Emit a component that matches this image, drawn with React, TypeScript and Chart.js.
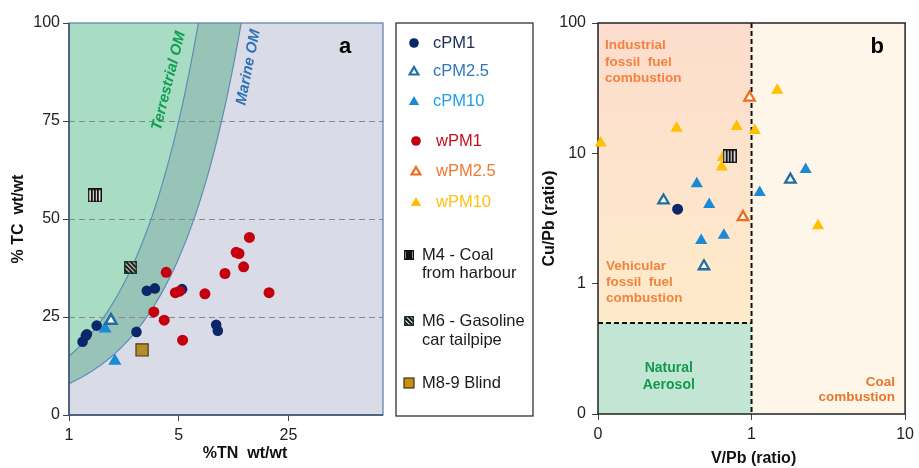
import React, { useEffect, useRef } from 'react';
import { Chart, registerables } from 'chart.js';

Chart.register(...registerables);

const FONT = '"Liberation Sans", Arial, Helvetica, sans-serif';

// ---------- Panel a : %TC vs %TN ----------
const A_X_TICKS = [1, 5, 25];
const A_Y_TICKS = [0, 25, 50, 75, 100];
const TERR_RATIO = 15; // C/N terrestrial boundary
const MAR_RATIO = 8; // C/N marine boundary

const cPM1_TN = [1.22, 1.28, 1.3, 1.5, 2.69, 3.13, 3.52, 5.25, 8.66, 8.87];
const cPM1_TC = [18.7, 20.2, 20.6, 22.8, 21.2, 31.7, 32.3, 32.1, 23.0, 21.5];
const cPM25_TN = [1.85];
const cPM25_TC = [24.1];
const cPM10_TN = [1.7, 1.96];
const cPM10_TC = [22.0, 13.8];
const wPM1_TN = [14.1, 11.6, 12.1, 12.95, 9.85, 4.16, 4.76, 5.07, 7.34, 18.8, 3.47, 4.04, 5.29];
const wPM1_TC = [45.3, 41.5, 41.2, 37.8, 36.1, 36.4, 31.2, 31.6, 30.9, 31.2, 26.3, 24.2, 19.1];
const M4_TN = [1.46];
const M4_TC = [56.0];
const M6_TN = [2.47];
const M6_TC = [37.7];
const M89_TN = [2.92];
const M89_TC = [16.6];

// ---------- Panel b : Cu/Pb vs V/Pb ----------
const B_X_TICKS = [0.1, 1, 10];
const B_X_LABELS = ['0', '1', '10'];
const B_Y_TICKS = [0.1, 1, 10, 100];
const B_Y_LABELS = ['0', '1', '10', '100'];
const V_SPLIT = 1;
const CU_SPLIT = 0.5;

const wPM10_V = [0.104, 0.325, 0.8, 1.05, 1.47, 0.65, 0.64, 2.71];
const wPM10_Cu = [12.0, 15.6, 16.1, 15.0, 30.5, 9.3, 7.85, 2.78];
const wPM25_V = [0.97, 0.88];
const wPM25_Cu = [26.8, 3.24];
const cPM10_V = [0.44, 0.53, 1.13, 2.25, 0.47, 0.66];
const cPM10_Cu = [5.85, 4.05, 5.0, 7.5, 2.14, 2.35];
const cPM25_V = [0.267, 1.79, 0.49];
const cPM25_Cu = [4.35, 6.28, 1.36];
const cPM1_V = [0.33];
const cPM1_Cu = [3.73];
const M4_V = [0.72];
const M4_Cu = [9.5];

// ---------- colours ----------
const C_NAVY = '#0c2769';
const C_CPM25 = '#1f6fa6';
const C_CPM10 = '#1b8ad6';
const C_RED = '#c40010';
const C_ORANGE = '#f06a1c';
const C_YELLOW = '#ffc000';

function pts(xs: number[], ys: number[]) {
  return xs.map((x, i) => ({ x, y: ys[i] }));
}

function makePattern(kind: 'v' | 'd', size: number): HTMLCanvasElement {
  const c = document.createElement('canvas');
  c.width = size;
  c.height = size;
  const g = c.getContext('2d')!;
  g.fillStyle = '#fff';
  g.fillRect(0, 0, size, size);
  g.save();
  g.beginPath();
  g.rect(1, 1, size - 2, size - 2);
  g.clip();
  g.strokeStyle = '#111';
  if (kind === 'v') {
    g.lineWidth = 2;
    const step = (size - 2) / 4;
    for (let k = 1; k <= 3; k++) {
      const x = 1 + step * k;
      g.beginPath();
      g.moveTo(x, 0);
      g.lineTo(x, size);
      g.stroke();
    }
  } else {
    g.lineWidth = 2.2;
    for (let k = -size; k < 2 * size; k += 4.6) {
      g.beginPath();
      g.moveTo(k, 0);
      g.lineTo(k + size, size);
      g.stroke();
    }
  }
  g.restore();
  g.lineWidth = 1.5;
  g.strokeStyle = kind === 'v' ? '#111' : '#173a28';
  g.strokeRect(0.75, 0.75, size - 1.5, size - 1.5);
  return c;
}

function drawTri(ctx: CanvasRenderingContext2D, x: number, y: number, r: number, fill: string, stroke: string, lw: number) {
  ctx.beginPath();
  for (let i = 0; i < 3; i++) {
    const a = (i * 2 * Math.PI) / 3;
    const px = x + Math.sin(a) * r;
    const py = y - Math.cos(a) * r;
    if (i === 0) ctx.moveTo(px, py);
    else ctx.lineTo(px, py);
  }
  ctx.closePath();
  ctx.fillStyle = fill;
  ctx.fill();
  if (lw > 0) {
    ctx.lineWidth = lw;
    ctx.strokeStyle = stroke;
    ctx.stroke();
  }
}

function drawCircle(ctx: CanvasRenderingContext2D, x: number, y: number, r: number, fill: string) {
  ctx.beginPath();
  ctx.arc(x, y, r, 0, Math.PI * 2);
  ctx.fillStyle = fill;
  ctx.fill();
}

function fixedTicks(values: number[]) {
  return (scale: any) => {
    scale.ticks = values.map((v) => ({ value: v }));
  };
}

export default function App() {
  const refA = useRef<HTMLCanvasElement>(null);
  const refB = useRef<HTMLCanvasElement>(null);

  useEffect(() => {
    const patV = makePattern('v', 14);
    const patD = makePattern('d', 13);
    const patVsmall = makePattern('v', 10);
    const patDsmall = makePattern('d', 10);

    // ---------------- Panel A ----------------
    const panelAPlugin = {
      id: 'panelA',
      beforeDraw(chart: any) {
        const { ctx, chartArea: ca, scales } = chart;
        const xs = scales.x;
        const ys = scales.y;
        ctx.save();
        ctx.beginPath();
        ctx.rect(ca.left, ca.top, ca.right - ca.left, ca.bottom - ca.top);
        ctx.clip();
        ctx.fillStyle = '#d9dbe7';
        ctx.fillRect(ca.left, ca.top, ca.right - ca.left, ca.bottom - ca.top);
        const curve = (ratio: number) => {
          const out: number[][] = [];
          const lo = Math.log(xs.min);
          const hi = Math.log(Math.min(xs.max, (ys.max / ratio) * 1.05));
          for (let i = 0; i <= 80; i++) {
            const tn = Math.exp(lo + ((hi - lo) * i) / 80);
            out.push([xs.getPixelForValue(tn), ys.getPixelForValue(ratio * tn)]);
          }
          return out;
        };
        const terr = curve(TERR_RATIO);
        const mar = curve(MAR_RATIO);
        const top = ca.top - 10;
        // terrestrial region
        ctx.beginPath();
        ctx.moveTo(ca.left, top);
        terr.forEach((p) => ctx.lineTo(p[0], p[1]));
        ctx.lineTo(terr[terr.length - 1][0], top);
        ctx.closePath();
        ctx.fillStyle = '#a8dcc3';
        ctx.fill();
        // band between
        ctx.beginPath();
        terr.forEach((p, i) => (i === 0 ? ctx.moveTo(p[0], p[1]) : ctx.lineTo(p[0], p[1])));
        ctx.lineTo(terr[terr.length - 1][0], top);
        ctx.lineTo(mar[mar.length - 1][0], top);
        for (let i = mar.length - 1; i >= 0; i--) ctx.lineTo(mar[i][0], mar[i][1]);
        ctx.closePath();
        ctx.fillStyle = '#98c4b7';
        ctx.fill();
        ctx.strokeStyle = '#5f8db8';
        ctx.lineWidth = 1.2;
        [terr, mar].forEach((c) => {
          ctx.beginPath();
          c.forEach((p, i) => (i === 0 ? ctx.moveTo(p[0], p[1]) : ctx.lineTo(p[0], p[1])));
          ctx.stroke();
        });
        ctx.restore();
      },
      beforeDatasetsDraw(chart: any) {
        const { ctx, chartArea: ca, scales } = chart;
        const xs = scales.x;
        const ys = scales.y;
        ctx.save();
        // border
        ctx.strokeStyle = '#6684ae';
        ctx.lineWidth = 1.3;
        ctx.strokeRect(ca.left, ca.top, ca.right - ca.left, ca.bottom - ca.top);
        ctx.strokeStyle = '#3a4c6c';
        ctx.lineWidth = 1.5;
        ctx.beginPath();
        ctx.moveTo(ca.left, ca.top);
        ctx.lineTo(ca.left, ca.bottom);
        ctx.lineTo(ca.right, ca.bottom);
        ctx.stroke();
        // curve labels
        const lab = (t: string, x: number, y: number, ang: number, col: string) => {
          ctx.save();
          ctx.translate(xs.getPixelForValue(x), ys.getPixelForValue(y));
          ctx.rotate((ang * Math.PI) / 180);
          ctx.font = `italic bold 15px ${FONT}`;
          ctx.fillStyle = col;
          ctx.textAlign = 'center';
          ctx.textBaseline = 'middle';
          ctx.fillText(t, 0, 0);
          ctx.restore();
        };
        lab('Terrestrial OM', 4.32, 85.2, -76, '#12a052');
        lab('Marine OM', 13.9, 88.7, -79, '#2e72b8');
        ctx.restore();
      },
      afterDraw(chart: any) {
        const { ctx, chartArea: ca } = chart;
        ctx.save();
        // panel letter
        ctx.font = `bold 22px ${FONT}`;
        ctx.fillStyle = '#000';
        ctx.textAlign = 'center';
        ctx.textBaseline = 'middle';
        ctx.fillText('a', ca.right - 38, ca.top + 24);
        // axis titles
        ctx.font = `bold 16px ${FONT}`;
        ctx.fillStyle = '#111';
        ctx.fillText('%TN  wt/wt', ca.left + 176, ca.bottom + 39);
        ctx.save();
        ctx.translate(19, (ca.top + ca.bottom) / 2);
        ctx.rotate(-Math.PI / 2);
        ctx.fillText('% TC  wt/wt', 0, 0);
        ctx.restore();

        // legend box
        const lx = ca.right + 13;
        const lw = 137;
        ctx.fillStyle = '#fff';
        ctx.fillRect(lx, ca.top, lw, ca.bottom - ca.top + 1);
        ctx.strokeStyle = '#333';
        ctx.lineWidth = 1.3;
        ctx.strokeRect(lx, ca.top, lw, ca.bottom - ca.top + 1);
        const mx = lx + 18;
        const tx = lx + 37;
        ctx.textAlign = 'left';
        ctx.textBaseline = 'middle';
        ctx.font = `16.5px ${FONT}`;
        const items: [string, string, (y: number) => void, number][] = [
          ['cPM1', '#1c2a55', (y) => drawCircle(ctx, mx, y, 4.8, C_NAVY), 43],
          ['cPM2.5', '#2e78bd', (y) => drawTri(ctx, mx, y + 1, 5, '#fff', C_CPM25, 2.2), 71],
          ['cPM10', '#1d9ee6', (y) => drawTri(ctx, mx, y + 1, 6, C_CPM10, C_CPM10, 0), 101],
          ['wPM1', '#c41020', (y) => drawCircle(ctx, mx + 2, y, 4.8, C_RED), 141],
          ['wPM2.5', '#f07830', (y) => drawTri(ctx, mx + 2, y + 1, 5, '#fff', C_ORANGE, 2.2), 171],
          ['wPM10', '#ffc010', (y) => drawTri(ctx, mx + 2, y + 1, 6, C_YELLOW, C_YELLOW, 0), 202],
        ];
        items.forEach(([t, col, mk, y]) => {
          mk(y);
          ctx.fillStyle = col;
          ctx.fillText(t, t.startsWith('w') ? tx + 3 : tx, y);
        });
        ctx.fillStyle = '#1a1a1a';
        const mx2 = lx + 13;
        const tx2 = lx + 26;
        ctx.drawImage(patVsmall, mx2 - 5, 255 - 5, 10, 10);
        ctx.fillText('M4 - Coal', tx2, 255);
        ctx.fillText('from harbour', tx2, 273);
        ctx.drawImage(patDsmall, mx2 - 5, 321 - 5, 10, 10);
        ctx.fillText('M6 - Gasoline', tx2, 321);
        ctx.fillText('car tailpipe', tx2, 340);
        ctx.fillStyle = '#c8900a';
        ctx.fillRect(mx2 - 5, 383 - 5, 10, 10);
        ctx.strokeStyle = '#3a3020';
        ctx.lineWidth = 1.2;
        ctx.strokeRect(mx2 - 5, 383 - 5, 10, 10);
        ctx.fillStyle = '#1a1a1a';
        ctx.fillText('M8-9 Blind', tx2, 383);
        ctx.restore();
      },
    };

    const common = { showLine: false, clip: false as any };

    const chartA = new Chart(refA.current!, {
      type: 'scatter',
      data: {
        datasets: [
          { ...common, label: 'M4 - Coal from harbour', data: pts(M4_TN, M4_TC), pointStyle: patV as any, pointRadius: 7 },
          { ...common, label: 'M6 - Gasoline car tailpipe', data: pts(M6_TN, M6_TC), pointStyle: patD as any, pointRadius: 7 },
          { ...common, label: 'M8-9 Blind', data: pts(M89_TN, M89_TC), pointStyle: 'rect', pointRadius: 8.6, backgroundColor: '#b48c28', borderColor: '#4a3c1a', borderWidth: 1.2 },
          { ...common, label: 'cPM2.5', data: pts(cPM25_TN, cPM25_TC), pointStyle: 'triangle', pointRadius: 6.5, backgroundColor: '#fff', borderColor: C_CPM25, borderWidth: 2.5 },
          { ...common, label: 'cPM10', data: pts(cPM10_TN, cPM10_TC), pointStyle: 'triangle', pointRadius: 7.5, backgroundColor: C_CPM10, borderWidth: 0 },
          { ...common, label: 'wPM1', data: pts(wPM1_TN, wPM1_TC), pointStyle: 'circle', pointRadius: 5.5, backgroundColor: C_RED, borderWidth: 0 },
          { ...common, label: 'cPM1', data: pts(cPM1_TN, cPM1_TC), pointStyle: 'circle', pointRadius: 5.3, backgroundColor: C_NAVY, borderWidth: 0 },
        ],
      },
      options: {
        animation: false,
        responsive: false,
        layout: { padding: { left: 0, top: 23, right: 157, bottom: 0 } },
        plugins: { legend: { display: false }, tooltip: { enabled: false } },
        scales: {
          x: {
            type: 'logarithmic',
            min: 1,
            max: 100,
            afterBuildTicks: fixedTicks(A_X_TICKS),
            afterFit: (s: any) => {
              s.height = 53;
            },
            ticks: {
              autoSkip: false,
              maxRotation: 0,
              padding: 5,
              color: '#222',
              font: { family: FONT, size: 16 },
              callback: (v: any) => String(v),
            },
            grid: { drawOnChartArea: false, drawTicks: true, tickLength: 6, tickColor: '#444', tickWidth: 1 },
            border: { display: false },
          },
          y: {
            type: 'linear',
            min: 0,
            max: 100,
            afterBuildTicks: fixedTicks(A_Y_TICKS),
            afterFit: (s: any) => {
              s.width = 69;
            },
            ticks: {
              padding: 3,
              color: '#222',
              font: { family: FONT, size: 16 },
              callback: (v: any) => String(v),
            },
            grid: {
              drawOnChartArea: true,
              color: (c: any) => (c.tick && (c.tick.value === 0 || c.tick.value === 100) ? 'rgba(0,0,0,0)' : '#858a90'),
              lineWidth: 1,
              drawTicks: true,
              tickLength: 6,
              tickColor: '#444',
            },
            border: { display: false, dash: [6, 4] },
          },
        },
      },
      plugins: [panelAPlugin],
    } as any);

    // ---------------- Panel B ----------------
    const panelBPlugin = {
      id: 'panelB',
      beforeDraw(chart: any) {
        const { ctx, chartArea: ca, scales } = chart;
        const xs = scales.x;
        const ys = scales.y;
        const xv = xs.getPixelForValue(V_SPLIT);
        const yc = ys.getPixelForValue(CU_SPLIT);
        ctx.save();
        ctx.fillStyle = '#fef6e8';
        ctx.fillRect(xv, ca.top, ca.right - xv, ca.bottom - ca.top);
        const g = ctx.createLinearGradient(0, ca.top, 0, yc);
        g.addColorStop(0, '#fddccd');
        g.addColorStop(0.5, '#fde4cc');
        g.addColorStop(1, '#feebca');
        ctx.fillStyle = g;
        ctx.fillRect(ca.left, ca.top, xv - ca.left, yc - ca.top);
        ctx.fillStyle = '#c3e5d4';
        ctx.fillRect(ca.left, yc, xv - ca.left, ca.bottom - yc);
        ctx.restore();
      },
      beforeDatasetsDraw(chart: any) {
        const { ctx, chartArea: ca, scales } = chart;
        const xs = scales.x;
        const ys = scales.y;
        const xv = xs.getPixelForValue(V_SPLIT);
        const yc = ys.getPixelForValue(CU_SPLIT);
        ctx.save();
        ctx.strokeStyle = '#111';
        ctx.lineWidth = 2;
        ctx.setLineDash([5, 3]);
        ctx.beginPath();
        ctx.moveTo(xv, ca.top);
        ctx.lineTo(xv, ca.bottom);
        ctx.moveTo(ca.left, yc);
        ctx.lineTo(xv, yc);
        ctx.stroke();
        ctx.setLineDash([]);
        ctx.lineWidth = 1.5;
        ctx.strokeStyle = '#222';
        ctx.strokeRect(ca.left, ca.top, ca.right - ca.left, ca.bottom - ca.top);

        // region labels
        ctx.textBaseline = 'middle';
        ctx.textAlign = 'left';
        ctx.font = `bold 13.5px ${FONT}`;
        ctx.fillStyle = '#f4823f';
        const L = ca.left + 7;
        ctx.fillText('Industrial', L, 45);
        ctx.fillText('fossil  fuel', L, 62);
        ctx.fillText('combustion', L, 78);
        ctx.fillText('Vehicular', L + 1, 266);
        ctx.fillText('fossil  fuel', L + 1, 282);
        ctx.fillText('combustion', L + 1, 298);
        ctx.textAlign = 'right';
        ctx.fillStyle = '#e5772d';
        ctx.fillText('Coal', ca.right - 10, 382);
        ctx.fillText('combustion', ca.right - 10, 397);
        ctx.textAlign = 'center';
        ctx.font = `bold 14px ${FONT}`;
        ctx.fillStyle = '#129a4c';
        const cx = (ca.left + xv) / 2 - 6;
        ctx.fillText('Natural', cx, 368);
        ctx.fillText('Aerosol', cx, 385);
        ctx.restore();
      },
      afterDraw(chart: any) {
        const { ctx, chartArea: ca, scales } = chart;
        ctx.save();
        ctx.font = `bold 22px ${FONT}`;
        ctx.fillStyle = '#000';
        ctx.textAlign = 'center';
        ctx.textBaseline = 'middle';
        ctx.fillText('b', ca.right - 28, ca.top + 24);
        ctx.font = `bold 16px ${FONT}`;
        ctx.fillStyle = '#111';
        ctx.fillText('V/Pb (ratio)', scales.x.getPixelForValue(V_SPLIT) + 2, ca.bottom + 45);
        ctx.save();
        ctx.translate(10, (ca.top + ca.bottom) / 2);
        ctx.rotate(-Math.PI / 2);
        ctx.fillText('Cu/Pb (ratio)', 0, 0);
        ctx.restore();
        ctx.restore();
      },
    };

    const chartB = new Chart(refB.current!, {
      type: 'scatter',
      data: {
        datasets: [
          { ...common, label: 'M4 - Coal from harbour', data: pts(M4_V, M4_Cu), pointStyle: patV as any, pointRadius: 7 },
          { ...common, label: 'cPM1', data: pts(cPM1_V, cPM1_Cu), pointStyle: 'circle', pointRadius: 5.5, backgroundColor: C_NAVY, borderWidth: 0 },
          { ...common, label: 'cPM2.5', data: pts(cPM25_V, cPM25_Cu), pointStyle: 'triangle', pointRadius: 6, backgroundColor: '#fff', borderColor: C_CPM25, borderWidth: 2.3 },
          { ...common, label: 'wPM2.5', data: pts(wPM25_V, wPM25_Cu), pointStyle: 'triangle', pointRadius: 6, backgroundColor: '#fff', borderColor: C_ORANGE, borderWidth: 2.3 },
          { ...common, label: 'cPM10', data: pts(cPM10_V, cPM10_Cu), pointStyle: 'triangle', pointRadius: 7, backgroundColor: C_CPM10, borderWidth: 0 },
          { ...common, label: 'wPM10', data: pts(wPM10_V, wPM10_Cu), pointStyle: 'triangle', pointRadius: 7, backgroundColor: C_YELLOW, borderWidth: 0 },
        ],
      },
      options: {
        animation: false,
        responsive: false,
        layout: { padding: { left: 0, top: 23, right: 11, bottom: 0 } },
        plugins: { legend: { display: false }, tooltip: { enabled: false } },
        scales: {
          x: {
            type: 'logarithmic',
            min: 0.1,
            max: 10,
            afterBuildTicks: fixedTicks(B_X_TICKS),
            afterFit: (s: any) => {
              s.height = 54;
            },
            ticks: {
              autoSkip: false,
              maxRotation: 0,
              padding: 5,
              color: '#222',
              font: { family: FONT, size: 16 },
              callback: (_v: any, i: number) => B_X_LABELS[i],
            },
            grid: { drawOnChartArea: false, drawTicks: true, tickLength: 6, tickColor: '#444' },
            border: { display: false },
          },
          y: {
            type: 'logarithmic',
            min: 0.1,
            max: 100,
            afterBuildTicks: fixedTicks(B_Y_TICKS),
            afterFit: (s: any) => {
              s.width = 58;
            },
            ticks: {
              padding: 6,
              color: '#222',
              font: { family: FONT, size: 16 },
              callback: (_v: any, i: number) => B_Y_LABELS[i],
            },
            grid: { drawOnChartArea: false, drawTicks: true, tickLength: 6, tickColor: '#444' },
            border: { display: false },
          },
        },
      },
      plugins: [panelBPlugin],
    } as any);

    return () => {
      chartA.destroy();
      chartB.destroy();
    };
  }, []);

  return (
    <div style={{ position: 'fixed', left: 0, top: 0, width: 919, height: 468, background: '#fff' }}>
      <canvas ref={refA} width={540} height={468} style={{ position: 'absolute', left: 0, top: 0 }} />
      <canvas ref={refB} width={379} height={468} style={{ position: 'absolute', left: 540, top: 0 }} />
    </div>
  );
}
